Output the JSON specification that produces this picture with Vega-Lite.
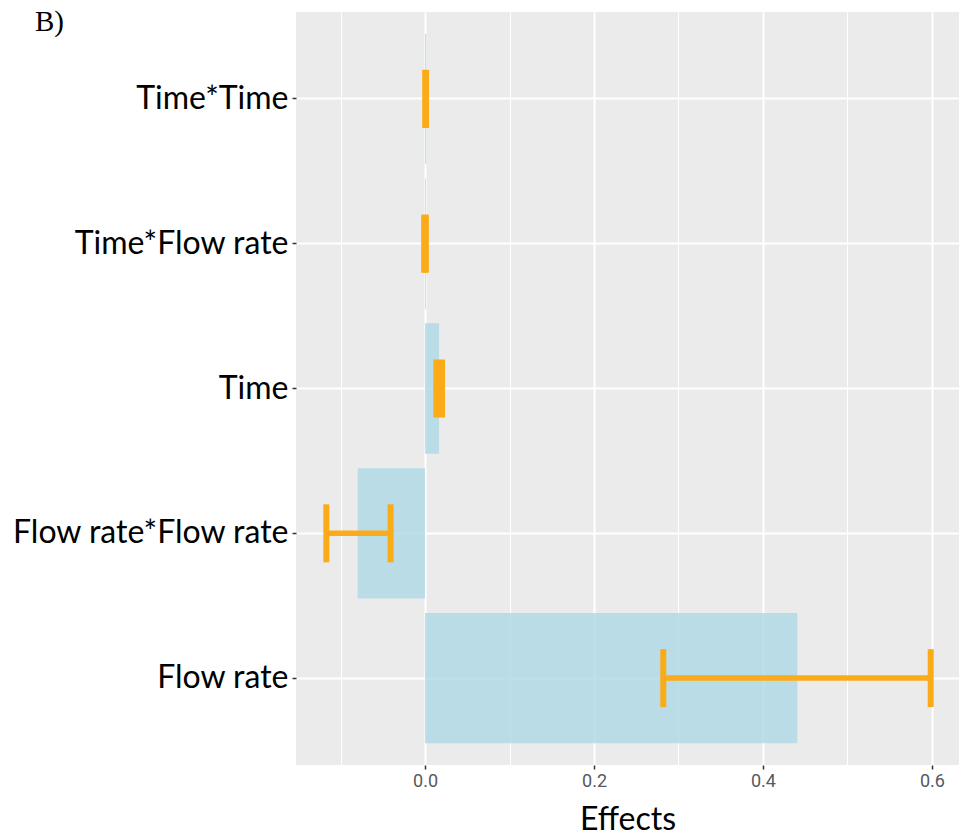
{
  "$schema": "https://vega.github.io/schema/vega-lite/v6.json",
  "width": 663,
  "height": 753,
  "autosize": {"type": "none"},
  "padding": {"left": 296, "top": 12, "right": 0, "bottom": 73},
  "background": "white",
  "config": {"view": {"fill": "#EBEBEB", "stroke": null}},
  "title": {
    "text": "B)",
    "anchor": "start",
    "frame": "group",
    "orient": "top",
    "offset": 0,
    "baseline": "alphabetic",
    "dx": -261,
    "dy": 48,
    "font": "Liberation Serif",
    "fontSize": 29,
    "fontWeight": "normal",
    "color": "black"
  },
  "data": {
    "values": [
      {"term": "Time*Time", "estimate": 0.0015, "lo": 0.0002, "hi": 0.0012},
      {"term": "Time*Flow rate", "estimate": 0.001, "lo": -0.001, "hi": 0.001},
      {"term": "Time", "estimate": 0.0166, "lo": 0.0134, "hi": 0.0201},
      {"term": "Flow rate*Flow rate", "estimate": -0.0797, "lo": -0.1168, "hi": -0.0408},
      {"term": "Flow rate", "estimate": 0.4406, "lo": 0.282, "hi": 0.5985}
    ]
  },
  "encoding": {
    "y": {
      "field": "term",
      "type": "nominal",
      "sort": ["Time*Time", "Time*Flow rate", "Time", "Flow rate*Flow rate", "Flow rate"],
      "scale": {"paddingInner": 0.1, "paddingOuter": 0.15},
      "axis": {
        "title": null,
        "domain": false,
        "grid": true,
        "gridColor": "white",
        "gridWidth": 2,
        "bandPosition": 0.5,
        "tickSize": 4,
        "tickWidth": 1.5,
        "tickColor": "#333333",
        "labelFont": "Lato",
        "labelFontSize": 32,
        "labelColor": "black",
        "labelPadding": 4,
        "labelLimit": 0
      }
    }
  },
  "layer": [
    {
      "mark": {"type": "bar", "color": "#ADD8E6", "opacity": 0.8},
      "encoding": {
        "x": {
          "field": "estimate",
          "type": "quantitative",
          "scale": {"domain": [-0.1527, 0.632], "nice": false, "zero": false},
          "axis": {
            "title": "Effects",
            "titleFont": "Lato",
            "titleFontSize": 32,
            "titleFontWeight": "normal",
            "titleColor": "black",
            "titlePadding": 14,
            "values": [-0.1, 0, 0.1, 0.2, 0.3, 0.4, 0.5, 0.6],
            "labelExpr": "abs(round(datum.value*10)) % 2 === 0 ? format(datum.value, '.1f') : ''",
            "labelFont": "Liberation Sans Narrow, Roboto",
            "labelFontSize": 18,
            "labelColor": "#555A60",
            "labelPadding": 3,
            "domain": false,
            "grid": true,
            "gridColor": "white",
            "gridWidth": {"condition": {"test": "abs(round(datum.value*10)) % 2 === 0", "value": 2}, "value": 1},
            "tickSize": 4,
            "tickWidth": 1.5,
            "tickColor": "#333333",
            "tickOpacity": {"condition": {"test": "abs(round(datum.value*10)) % 2 === 0", "value": 1}, "value": 0}
          }
        },
        "x2": {"datum": 0}
      }
    },
    {
      "mark": {"type": "rule", "color": "#FCAB18", "strokeWidth": 5.5},
      "encoding": {
        "x": {"field": "lo", "type": "quantitative"},
        "x2": {"field": "hi"}
      }
    },
    {
      "mark": {"type": "tick", "color": "#FCAB18", "opacity": 1, "thickness": 6, "size": 58, "orient": "vertical"},
      "encoding": {"x": {"field": "lo", "type": "quantitative"}}
    },
    {
      "mark": {"type": "tick", "color": "#FCAB18", "opacity": 1, "thickness": 6, "size": 58, "orient": "vertical"},
      "encoding": {"x": {"field": "hi", "type": "quantitative"}}
    }
  ]
}
